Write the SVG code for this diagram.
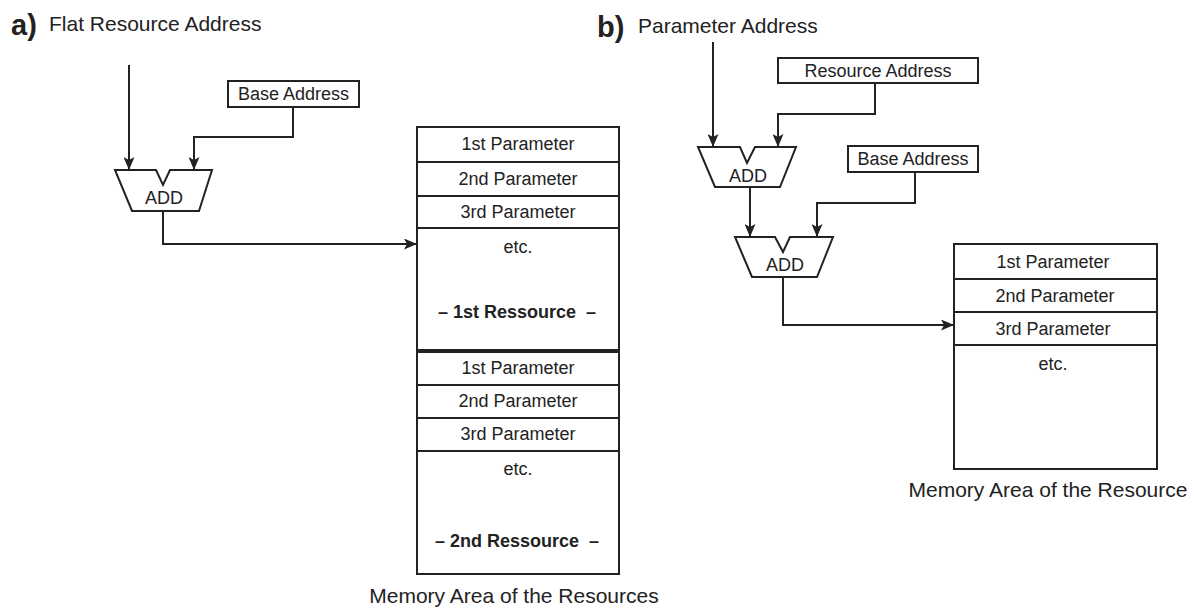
<svg xmlns="http://www.w3.org/2000/svg" width="1195" height="610" viewBox="0 0 1195 610">
<defs>
<marker id="arr" markerWidth="13" markerHeight="11" refX="13" refY="5.5" orient="auto" markerUnits="userSpaceOnUse">
<path d="M0,0 L13,5.5 L0,11 L3,5.5 z" fill="#222"/>
</marker>
<style>
text{font-family:"Liberation Sans",Arial,sans-serif;fill:#222;}
.t{font-size:18px;text-anchor:middle;}
.b{font-size:18px;text-anchor:middle;font-weight:bold;}
.h{font-size:21px;}
.lab{font-size:29px;font-weight:bold;}
.box{fill:#fff;stroke:#222;stroke-width:2;}
.line{fill:none;stroke:#222;stroke-width:2;}
.conn{fill:none;stroke:#222;stroke-width:2;marker-end:url(#arr);}
</style>
</defs>
<rect width="1195" height="610" fill="#fff"/>

<g id="titles">
<text class="lab" x="11" y="35">a)</text>
<text class="h" x="49" y="31">Flat Resource Address</text>
<text class="lab" x="597" y="37">b)</text>
<text class="h" x="638" y="33">Parameter Address</text>
</g>

<g id="connectors">
<path class="conn" d="M129,65 V170"/>
<path class="conn" d="M293,107 V137 H194 V170"/>
<path class="conn" d="M163,211 V244 H417"/>
<path class="conn" d="M713,42 V147"/>
<path class="conn" d="M875,83 V114 H778 V147"/>
<path class="conn" d="M750,187 V237"/>
<path class="conn" d="M915,172 V203 H817 V237"/>
<path class="conn" d="M783,277 V325 H954"/>
</g>

<g id="a-base-address">
<rect class="box" x="228" y="81" width="131" height="26"/>
<text class="t" x="293.5" y="100">Base Address</text>
</g>

<g id="a-add">
<path class="box" d="M115,170 H156 L163,185 L170,170 H212 L199,211 H132 Z"/>
<text class="t" x="164" y="204">ADD</text>
</g>

<g id="a-memory">
<rect class="box" x="417" y="127" width="202" height="223"/>
<path class="line" d="M417,162 H619 M417,196 H619 M417,228 H619"/>
<text class="t" x="518" y="150">1st Parameter</text>
<text class="t" x="518" y="185">2nd Parameter</text>
<text class="t" x="518" y="218">3rd Parameter</text>
<text class="t" x="518" y="253">etc.</text>
<text class="b" x="517" y="318" xml:space="preserve">– 1st Ressource  –</text>
<rect class="box" x="417" y="352" width="202" height="222"/>
<path class="line" d="M417,385 H619 M417,418 H619 M417,451 H619"/>
<text class="t" x="518" y="374">1st Parameter</text>
<text class="t" x="518" y="407">2nd Parameter</text>
<text class="t" x="518" y="440">3rd Parameter</text>
<text class="t" x="518" y="475">etc.</text>
<text class="b" x="517" y="547" xml:space="preserve">– 2nd Ressource  –</text>
<text class="h" x="514" y="603" text-anchor="middle">Memory Area of the Resources</text>
</g>

<g id="b-resource-address">
<rect class="box" x="778" y="58" width="200" height="25"/>
<text class="t" x="878" y="77">Resource Address</text>
</g>

<g id="b-add1">
<path class="box" d="M698,147 H740 L747,163 L755,147 H796 L780,187 H715 Z"/>
<text class="t" x="748" y="182">ADD</text>
</g>

<g id="b-base-address">
<rect class="box" x="848" y="146" width="130" height="26"/>
<text class="t" x="913" y="165">Base Address</text>
</g>

<g id="b-add2">
<path class="box" d="M735,237 H775 L783,252 L790,237 H833 L817,277 H752 Z"/>
<text class="t" x="785" y="271">ADD</text>
</g>

<g id="b-memory">
<rect class="box" x="954" y="244" width="203" height="225"/>
<path class="line" d="M954,279 H1157 M954,312 H1157 M954,345 H1157"/>
<text class="t" x="1053" y="268">1st Parameter</text>
<text class="t" x="1055" y="302">2nd Parameter</text>
<text class="t" x="1053" y="335">3rd Parameter</text>
<text class="t" x="1053" y="370">etc.</text>
<text class="h" x="1048" y="497" text-anchor="middle">Memory Area of the Resource</text>
</g>
</svg>
